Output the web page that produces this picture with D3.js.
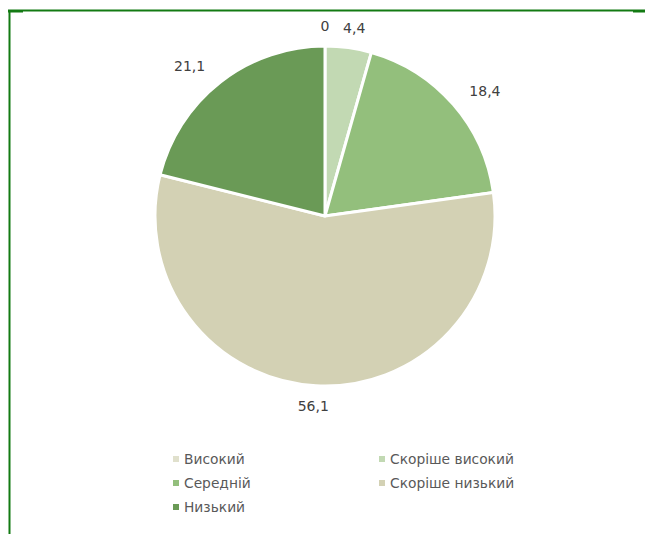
<!DOCTYPE html>
<html><head><meta charset="utf-8">
<script src="https://cdn.jsdelivr.net/npm/d3@7"></script>
<style>body{margin:0;background:#fff}svg{display:block}</style>
</head><body>
<svg id="c" width="645" height="534"></svg>
<script>
const categories = ["Високий","Скоріше високий","Середній","Скоріше низький","Низький"];
const values = [0, 4.4, 18.4, 56.1, 21.1];
const labels = ["0","4,4","18,4","56,1","21,1"];
const colors = ["#e0e0cc","#c2d9b3","#93bf7c","#d3d1b4","#6a9a56"];

const svg = d3.select("#c");
// frame
const frameColor = "#137a13";
svg.append("line").attr("x1",8).attr("x2",645).attr("y1",10.5).attr("y2",10.5).attr("stroke",frameColor).attr("stroke-width",2);
svg.append("line").attr("x1",9.5).attr("x2",9.5).attr("y1",10).attr("y2",534).attr("stroke",frameColor).attr("stroke-width",2);
svg.append("rect").attr("x",8).attr("y",10).attr("width",15).attr("height",2.5).attr("fill",frameColor);
svg.append("rect").attr("x",633).attr("y",10).attr("width",12).attr("height",2.5).attr("fill",frameColor);

const cx = 325, cy = 216, R = 170;
const pie = d3.pie().sort(null).value(d=>d.v);
const data = categories.map((c,i)=>({c, v: values[i], l: labels[i], col: colors[i]}));
const arcs = pie(data);
const arc = d3.arc().innerRadius(0).outerRadius(R);
const g = svg.append("g").attr("transform",`translate(${cx},${cy})`);
g.selectAll("path").data(arcs).join("path")
  .attr("d",arc).attr("fill",d=>d.data.col)
  .attr("stroke","#fff").attr("stroke-width",3).attr("stroke-linejoin","round");

g.selectAll("text.lbl").data(arcs).join("text").attr("class","lbl")
  .each(function(d){
    const a = (d.startAngle+d.endAngle)/2;
    const s = Math.sin(a), c = Math.cos(a);
    const x = s*(185+27+(s<0?8:0)), y = -c*(190);
    d3.select(this).attr("x",x).attr("y",y).attr("dy","0.35em");
  })
  .attr("text-anchor","middle")
  .attr("font-family","DejaVu Sans, Verdana, sans-serif")
  .attr("font-size",14).attr("fill","#404040")
  .text(d=>d.data.l);

// legend
const legCols = [176, 382], legRows = [459, 483, 507];
const lg = svg.append("g");
data.forEach((d,i)=>{
  const x = legCols[i%2], y = legRows[Math.floor(i/2)];
  lg.append("rect").attr("x",x-3).attr("y",y-3).attr("width",6).attr("height",6).attr("fill",d.col);
  lg.append("text").attr("x",x+8).attr("y",y).attr("dy","0.35em")
    .attr("font-family","DejaVu Sans, Verdana, sans-serif").attr("font-size",13.8)
    .attr("fill","#595959").text(d.c);
});
</script>
</body></html>
